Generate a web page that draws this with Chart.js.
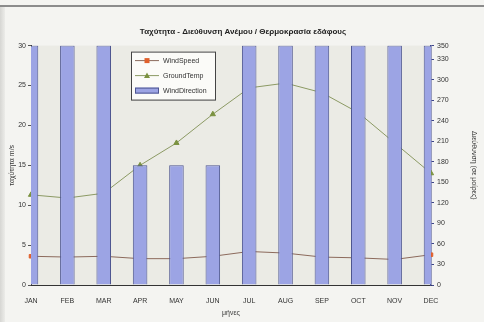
<!DOCTYPE html>
<html>
<head>
<meta charset="utf-8">
<script src="https://cdn.jsdelivr.net/npm/chart.js@4"></script>
<style>
  html, body { margin: 0; padding: 0; background: #f4f4f1; }
  #wrap { position: relative; width: 484px; height: 322px; overflow: hidden; }
  #wrap::before { content: ''; position: absolute; left: 0; right: 0; top: 5px; height: 2px; background: #8c8c8c; }
  #wrap::after { content: ''; position: absolute; left: 0; top: 7px; bottom: 0; width: 5px; background: linear-gradient(to right, #d6d6d3, #ecece9); }
  canvas { position: absolute; left: 0; top: 0; z-index: 1; }
</style>
</head>
<body>
<div id="wrap"><canvas id="chart" width="484" height="322"></canvas></div>
<script>
// Months and monthly measurements
const months = ['JAN', 'FEB', 'MAR', 'APR', 'MAY', 'JUN', 'JUL', 'AUG', 'SEP', 'OCT', 'NOV', 'DEC'];
const windSpeed = [3.6, 3.5, 3.6, 3.3, 3.3, 3.6, 4.2, 4.0, 3.5, 3.4, 3.2, 3.8];
const groundTemp = [11.3, 10.9, 11.5, 15.0, 17.8, 21.4, 24.7, 25.3, 24.1, 21.6, 17.8, 14.0];
const windDirection = [350, 350, 350, 175, 175, 175, 350, 350, 350, 350, 350, 350];

// Axis ticks
const speedTicks = [0, 5, 10, 15, 20, 25, 30];
const directionTicks = [0, 30, 60, 90, 120, 150, 180, 210, 240, 270, 300, 330, 350];

const FONT = { family: 'Liberation Sans, Arial, sans-serif', size: 7 };
const TEXT = '#333';

// grey-beige plot background
const plotBg = {
  id: 'plotBg',
  beforeDraw(chart) {
    const { ctx, chartArea: a } = chart;
    ctx.save();
    ctx.fillStyle = '#ebebe5';
    ctx.fillRect(a.left, a.top, a.right - a.left, a.bottom - a.top);
    ctx.restore();
  }
};

// legend box drawn inside the plot
const boxLegend = {
  id: 'boxLegend',
  afterDraw(chart) {
    const { ctx, chartArea: a } = chart;
    const x = a.left + 100, y = a.top + 6, w = 84, h = 48;
    ctx.save();
    ctx.fillStyle = '#fbfbf8';
    ctx.fillRect(x, y, w, h);
    ctx.strokeStyle = '#444';
    ctx.lineWidth = 1;
    ctx.strokeRect(x + 0.5, y + 0.5, w, h);
    ctx.font = FONT.size + 'px ' + FONT.family;
    ctx.textBaseline = 'middle';
    chart.data.datasets.forEach((ds, i) => {
      const cy = y + 9 + i * 15;
      if (ds.type === 'bar') {
        ctx.fillStyle = ds.backgroundColor;
        ctx.fillRect(x + 4, cy - 3, 24, 6);
        ctx.strokeStyle = ds.borderColor;
        ctx.strokeRect(x + 4.5, cy - 2.5, 23, 5);
      } else {
        ctx.strokeStyle = ds.borderColor;
        ctx.beginPath();
        ctx.moveTo(x + 4, cy);
        ctx.lineTo(x + 28, cy);
        ctx.stroke();
        ctx.fillStyle = ds.pointBackgroundColor;
        ctx.beginPath();
        if (ds.pointStyle === 'triangle') {
          ctx.moveTo(x + 16, cy - 3);
          ctx.lineTo(x + 19, cy + 2.5);
          ctx.lineTo(x + 13, cy + 2.5);
        } else {
          ctx.rect(x + 13.5, cy - 2.5, 5, 5);
        }
        ctx.fill();
      }
      ctx.fillStyle = TEXT;
      ctx.fillText(ds.label, x + 32, cy);
    });
    ctx.restore();
  }
};

new Chart(document.getElementById('chart'), {
  data: {
    labels: months,
    datasets: [
      {
        type: 'line',
        label: 'WindSpeed',
        data: windSpeed,
        yAxisID: 'speed',
        borderColor: '#8c6a5c',
        borderWidth: 1,
        pointStyle: 'rect',
        pointRadius: 2.5,
        pointBackgroundColor: '#e0602c',
        pointBorderColor: '#e0602c',
        tension: 0,
        order: 2
      },
      {
        type: 'line',
        label: 'GroundTemp',
        data: groundTemp,
        yAxisID: 'speed',
        borderColor: '#8c9a64',
        borderWidth: 1,
        pointStyle: 'triangle',
        pointRadius: 3,
        pointBackgroundColor: '#7b9240',
        pointBorderColor: '#7b9240',
        tension: 0,
        order: 1
      },
      {
        type: 'bar',
        label: 'WindDirection',
        data: windDirection,
        yAxisID: 'direction',
        backgroundColor: '#9ca4e4',
        borderColor: '#4e5690',
        borderWidth: 1,
        barPercentage: 0.4,
        categoryPercentage: 1,
        order: 0
      }
    ]
  },
  options: {
    responsive: false,
    animation: false,
    layout: { padding: { left: 8, right: 6, top: 0, bottom: 5 } },
    plugins: {
      legend: { display: false },
      tooltip: { enabled: false },
      title: {
        display: true,
        text: 'Ταχύτητα - Διεύθυνση Ανέμου / Θερμοκρασία εδάφους',
        color: '#222',
        font: { family: FONT.family, size: 8, weight: 'bold' },
        padding: { top: 27, bottom: 9 }
      }
    },
    scales: {
      x: {
        offset: false,
        grid: { display: false, drawTicks: true },
        border: { color: '#333' },
        ticks: { color: TEXT, font: FONT, padding: 4, maxRotation: 0, autoSkip: false },
        title: { display: true, text: 'μήνες', color: TEXT, font: FONT, padding: { top: 4, bottom: 0 } },
        afterFit(s) { s.height = 32; }
      },
      speed: {
        position: 'left',
        min: 0,
        max: 30,
        afterBuildTicks(s) { s.ticks = speedTicks.map(v => ({ value: v })); },
        grid: { drawOnChartArea: false, tickLength: 3, color: '#555' },
        border: { color: '#333' },
        ticks: { color: TEXT, font: FONT, padding: 2 },
        title: { display: true, text: 'ταχύτητα m/s', color: TEXT, font: FONT, padding: 0 },
        afterFit(s) { s.width = 23; }
      },
      direction: {
        position: 'right',
        min: 0,
        max: 350,
        afterBuildTicks(s) { s.ticks = directionTicks.map(v => ({ value: v })); },
        grid: { drawOnChartArea: false, tickLength: 3, color: '#3c4488' },
        border: { color: '#3c4488', width: 1.5 },
        ticks: { color: TEXT, font: FONT, padding: 3 },
        title: { display: true, text: 'Διεύθυνση (σε μοίρες)', color: TEXT, font: FONT, padding: 0 },
        afterFit(s) { s.width = 47; }
      }
    }
  },
  plugins: [plotBg, boxLegend]
});
</script>
</body>
</html>
